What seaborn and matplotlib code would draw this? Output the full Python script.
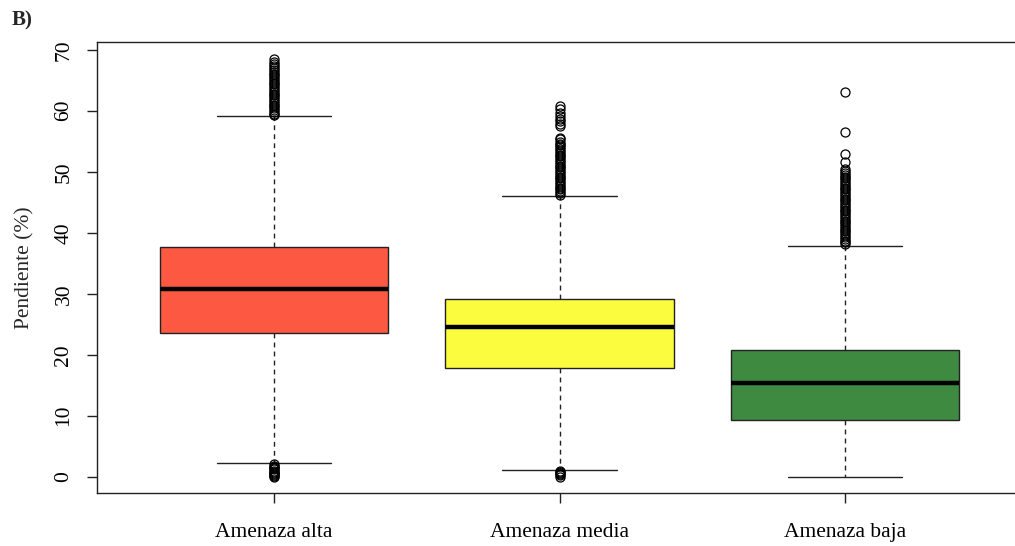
import seaborn as sns
sns.set_theme(style="ticks")
import matplotlib.pyplot as plt

plt.rcParams['font.family'] = ['Liberation Serif', 'DejaVu Serif']

# datos
grupos = ['Amenaza alta', 'Amenaza media', 'Amenaza baja']
colores = ['#FD5841', '#FCFC3E', '#3D8A40']
q1 = [23.6, 17.9, 9.3]
mediana = [30.8, 24.5, 15.3]
q3 = [37.7, 29.1, 20.7]
bigote_inf = [2.2, 1.1, 0.0]
bigote_sup = [59.2, 46.0, 37.9]

atipicos_alta = [0.0, 0.1, 0.2, 0.4, 0.6, 0.8, 1.0, 1.2, 1.4, 1.6, 1.8, 2.0,
                 59.3, 59.5, 59.8, 60.1, 60.4, 60.7, 61.0, 61.3, 61.6, 61.9,
                 62.2, 62.5, 62.8, 63.1, 63.4, 63.7, 64.0, 64.3, 64.6, 64.9,
                 65.2, 65.5, 65.8, 66.1, 66.4, 66.7, 67.0, 67.3, 67.6, 68.0, 68.4]
atipicos_media = [0.0, 0.2, 0.4, 0.6, 0.8, 1.0,
                  46.2, 46.5, 46.8, 47.1, 47.4, 47.7, 48.0, 48.3, 48.6, 48.9,
                  49.2, 49.5, 49.8, 50.1, 50.4, 50.7, 51.0, 51.3, 51.6, 51.9,
                  52.2, 52.5, 52.8, 53.1, 53.4, 53.7, 54.0, 54.3, 54.6, 54.9,
                  55.3, 55.6, 57.5, 57.9, 58.3, 58.7, 59.1, 59.6, 60.2, 60.8]
atipicos_baja = [38.1, 38.4, 38.7, 39.0, 39.3, 39.6, 39.9, 40.2, 40.5, 40.8,
                 41.1, 41.4, 41.7, 42.0, 42.3, 42.6, 42.9, 43.2, 43.5, 43.8,
                 44.1, 44.4, 44.7, 45.0, 45.3, 45.6, 45.9, 46.2, 46.5, 46.8,
                 47.1, 47.4, 47.7, 48.0, 48.3, 48.6, 48.9, 49.2, 49.5, 49.8,
                 50.1, 50.5, 51.6, 52.9, 56.5, 63.0]
atipicos = [atipicos_alta, atipicos_media, atipicos_baja]

stats = []
for i, g in enumerate(grupos):
    stats.append(dict(label=g, med=mediana[i], q1=q1[i], q3=q3[i],
                      whislo=bigote_inf[i], whishi=bigote_sup[i],
                      fliers=atipicos[i]))

fig = plt.figure(figsize=(10.15, 5.46), dpi=100)
ax = fig.add_axes([97 / 1015, 1 - 493.4 / 546, 925 / 1015, 451 / 546])

bp = ax.bxp(stats, positions=[1, 2, 3], widths=0.8, patch_artist=True,
            showfliers=True,
            boxprops=dict(edgecolor='#222222', linewidth=1.0),
            medianprops=dict(color='black', linewidth=3.2, solid_capstyle='butt'),
            whiskerprops=dict(color='#222222', linewidth=1.0, linestyle=(0, (3.5, 3))),
            capprops=dict(color='#222222', linewidth=1.0),
            capwidths=0.4,
            flierprops=dict(marker='o', markersize=6.5, markerfacecolor='none',
                            markeredgecolor='black', markeredgewidth=0.9))
for patch, c in zip(bp['boxes'], colores):
    patch.set_facecolor(c)

ax.set_xlim(0.38, 3.62)
ax.set_ylim(-2.74, 71.2)
ax.set_yticks(range(0, 71, 10))
ax.set_xticks([1, 2, 3])
ax.set_xticklabels(grupos, fontsize=15.5)
ax.tick_params(axis='y', labelsize=15.5, labelrotation=90, length=7, width=1, colors='#222222', pad=10)
ax.tick_params(axis='x', length=7, width=1, colors='#222222', pad=14)
for lab in ax.get_yticklabels():
    lab.set_verticalalignment('center')
    lab.set_color('black')
for lab in ax.get_xticklabels():
    lab.set_color('black')
for s in ax.spines.values():
    s.set_linewidth(1.0)
    s.set_color('#222222')
ax.set_ylabel('Pendiente (%)', fontsize=15.5, labelpad=14)

fig.text(12 / 1015, 1 - 20 / 546, 'B)', fontsize=15, fontweight='bold', va='center')

fig.savefig('out.png', dpi=100)
